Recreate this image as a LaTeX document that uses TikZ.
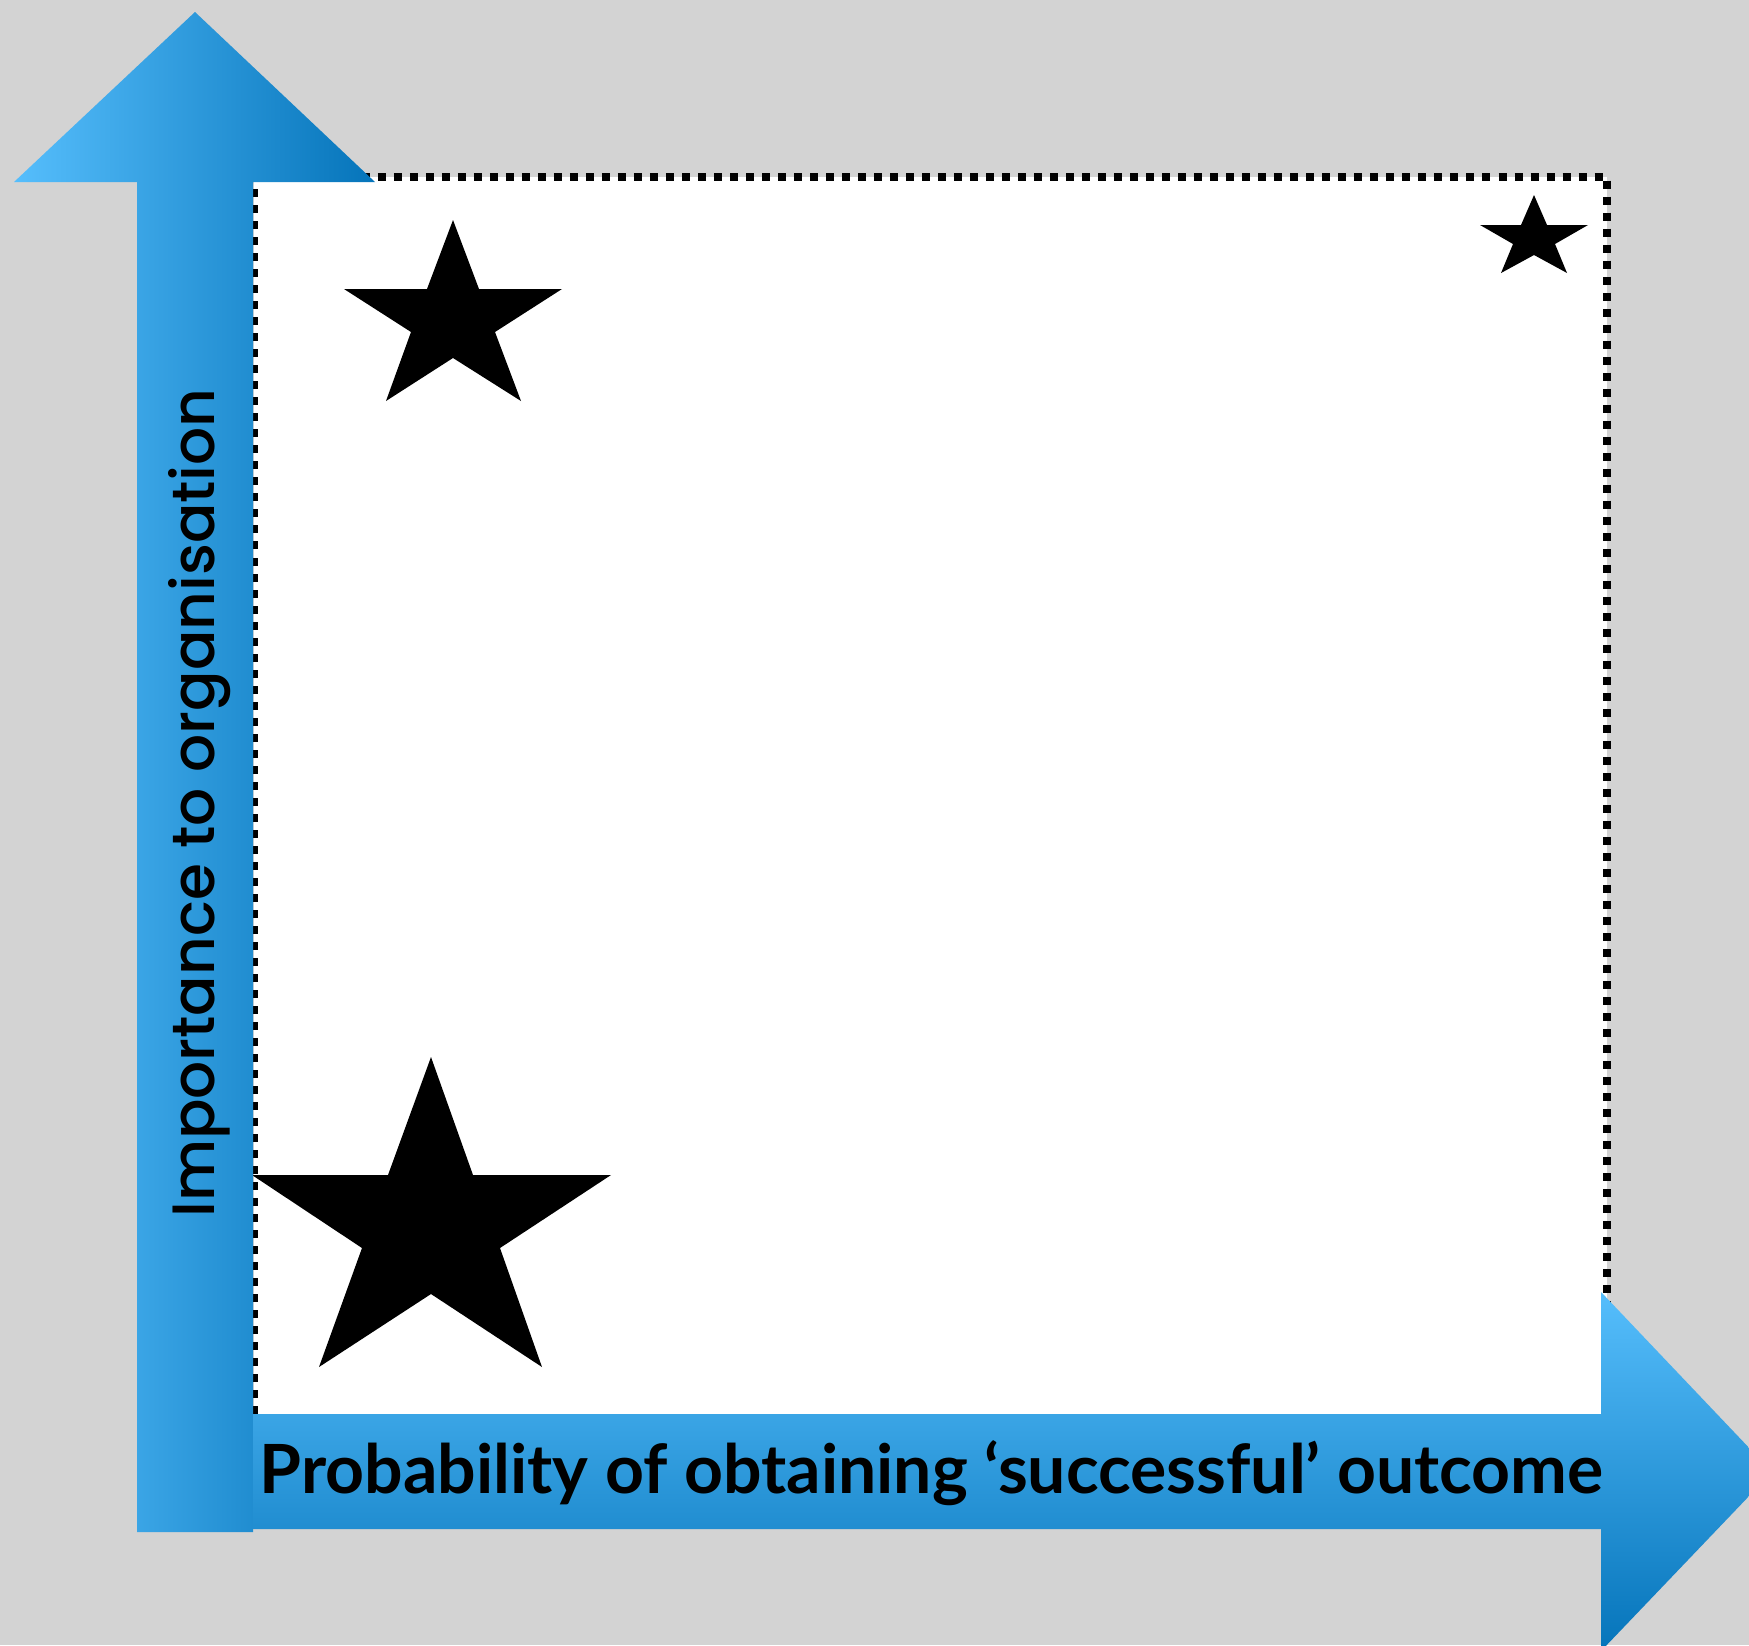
\documentclass[tikz,border=0pt]{standalone}
\usepackage{fontspec}
\usepackage{tikz}
\usetikzlibrary{positioning}
\usepackage{xcolor}
\newfontfamily\xaxisfont{Lato}
\newfontfamily\yaxisfont{Poppins}[UprightFont={* Medium}]
\definecolor{bgGray}{HTML}{D3D3D3}
\definecolor{arrowLight}{HTML}{56BEFC}
\definecolor{arrowDark}{HTML}{0574BA}
\tikzset{
    plotarea/.style={
        draw=black,
        line width=0.08cm,
        dash pattern=on 0.08cm off 0.08cm
    },
    yarrow/.style={
        left color=arrowLight,
        right color=arrowDark,
        draw=none
    },
    xarrow/.style={
        top color=arrowLight,
        bottom color=arrowDark,
        draw=none
    },
    starmark/.style={fill=black, draw=none},
    axislabel/.style={
        inner sep=0pt,
        text=black
    }
}

\begin{document}
\begin{tikzpicture}[x=0.01cm, y=-0.01cm]
    \useasboundingbox (0,0) rectangle (1749,1645);
    \fill[bgGray] (0,0) rectangle (1749,1645);

    % plotting area
    \fill[white] (254,177) rectangle (1607,1414);
    \draw[plotarea] (254,1414) -- (254,177) -- (1607,177) -- (1607,1414);

    % stars
    \draw[starmark] (453,220) -- (479,289) -- (562,289) -- (495,332) -- (521,401)
        -- (453,358) -- (386,401) -- (411,332) -- (344,289) -- (427,289) -- cycle;
    \draw[starmark] (1534,195) -- (1547,225) -- (1588,225) -- (1555,244) -- (1567,273)
        -- (1534,255) -- (1501,273) -- (1513,244) -- (1480,225) -- (1521,225) -- cycle;
    \draw[starmark] (431,1057) -- (473,1175) -- (611,1175) -- (500,1248) -- (542,1367)
        -- (431,1294) -- (319,1367) -- (362,1248) -- (252,1175) -- (388,1175) -- cycle;

    % axes
    \path[yarrow] (137,1532) -- (137,182) -- (14,182) -- (195,12) -- (375,182)
        -- (253,182) -- (253,1532) -- cycle;
    \path[xarrow] (253,1414) -- (1601,1414) -- (1601,1292) -- (1772,1472)
        -- (1601,1651) -- (1601,1529) -- (253,1529) -- cycle;

    \node[axislabel, anchor=base west, font=\fontsize{19.3}{22}\selectfont] (xlabel)
        at (259,1493) {\xaxisfont\bfseries Probability of obtaining ‘successful’ outcome};
    \node[axislabel, anchor=base, rotate=90, font=\fontsize{17}{20}\selectfont] (ylabel)
        at (214,803) {\yaxisfont Importance to organisation};
\end{tikzpicture}
\end{document}
